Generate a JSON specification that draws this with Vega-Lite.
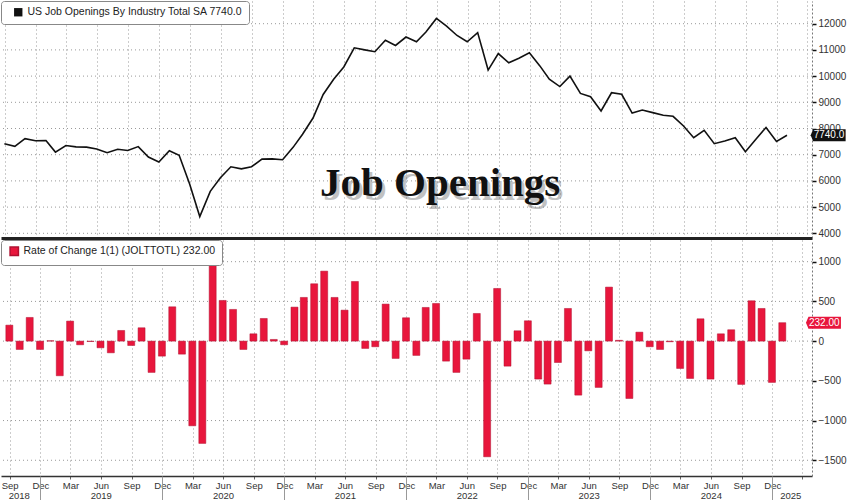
{
  "$schema": "https://vega.github.io/schema/vega-lite/v6.json",
  "padding": 0,
  "autosize": {"type": "pad"},
  "background": "white",
  "spacing": 0,
  "config": {
    "view": {"stroke": null},
    "font": "Liberation Sans",
    "axis": {"labelFont": "Liberation Sans"},
    "legend": {"labelFont": "Liberation Sans"}
  },
  "resolve": {"scale": {"color": "independent"}, "legend": {"color": "independent"}},
  "data": {
    "format": {"parse": {"date": "utc:'%Y-%m-%d'"}},
    "values": [
      {"date": "2018-09-30", "openings": 7420, "change": 201},
      {"date": "2018-10-31", "openings": 7320, "change": -105},
      {"date": "2018-11-30", "openings": 7610, "change": 298},
      {"date": "2018-12-31", "openings": 7530, "change": -105},
      {"date": "2019-01-31", "openings": 7540, "change": 5},
      {"date": "2019-02-28", "openings": 7100, "change": -436},
      {"date": "2019-03-31", "openings": 7350, "change": 252},
      {"date": "2019-04-30", "openings": 7300, "change": -46},
      {"date": "2019-05-31", "openings": 7290, "change": -5},
      {"date": "2019-06-30", "openings": 7220, "change": -84},
      {"date": "2019-07-31", "openings": 7075, "change": -147},
      {"date": "2019-08-31", "openings": 7210, "change": 134},
      {"date": "2019-09-30", "openings": 7160, "change": -55},
      {"date": "2019-10-31", "openings": 7310, "change": 168},
      {"date": "2019-11-30", "openings": 6910, "change": -394},
      {"date": "2019-12-31", "openings": 6720, "change": -189},
      {"date": "2020-01-31", "openings": 7150, "change": 432},
      {"date": "2020-02-29", "openings": 6980, "change": -164},
      {"date": "2020-03-31", "openings": 5880, "change": -1066},
      {"date": "2020-04-30", "openings": 4640, "change": -1288},
      {"date": "2020-05-31", "openings": 5600, "change": 990},
      {"date": "2020-06-30", "openings": 6120, "change": 512},
      {"date": "2020-07-31", "openings": 6540, "change": 399},
      {"date": "2020-08-31", "openings": 6460, "change": -105},
      {"date": "2020-09-30", "openings": 6540, "change": 92},
      {"date": "2020-10-31", "openings": 6830, "change": 285},
      {"date": "2020-11-30", "openings": 6840, "change": 21},
      {"date": "2020-12-31", "openings": 6810, "change": -46},
      {"date": "2021-01-31", "openings": 7280, "change": 428},
      {"date": "2021-02-28", "openings": 7780, "change": 550},
      {"date": "2021-03-31", "openings": 8400, "change": 722},
      {"date": "2021-04-30", "openings": 9300, "change": 881},
      {"date": "2021-05-31", "openings": 9880, "change": 550},
      {"date": "2021-06-30", "openings": 10350, "change": 390},
      {"date": "2021-07-31", "openings": 11080, "change": 751},
      {"date": "2021-08-31", "openings": 11000, "change": -92},
      {"date": "2021-09-30", "openings": 10930, "change": -71},
      {"date": "2021-10-31", "openings": 11370, "change": 466},
      {"date": "2021-11-30", "openings": 11170, "change": -218},
      {"date": "2021-12-31", "openings": 11490, "change": 294},
      {"date": "2022-01-31", "openings": 11310, "change": -180},
      {"date": "2022-02-28", "openings": 11680, "change": 424},
      {"date": "2022-03-31", "openings": 12200, "change": 474},
      {"date": "2022-04-30", "openings": 11910, "change": -252},
      {"date": "2022-05-31", "openings": 11550, "change": -394},
      {"date": "2022-06-30", "openings": 11310, "change": -227},
      {"date": "2022-07-31", "openings": 11660, "change": 348},
      {"date": "2022-08-31", "openings": 10230, "change": -1456},
      {"date": "2022-09-30", "openings": 10860, "change": 663},
      {"date": "2022-10-31", "openings": 10510, "change": -315},
      {"date": "2022-11-30", "openings": 10680, "change": 130},
      {"date": "2022-12-31", "openings": 10890, "change": 256},
      {"date": "2023-01-31", "openings": 10390, "change": -478},
      {"date": "2023-02-28", "openings": 9880, "change": -541},
      {"date": "2023-03-31", "openings": 9600, "change": -269},
      {"date": "2023-04-30", "openings": 10000, "change": 411},
      {"date": "2023-05-31", "openings": 9340, "change": -680},
      {"date": "2023-06-30", "openings": 9215, "change": -122},
      {"date": "2023-07-31", "openings": 8670, "change": -583},
      {"date": "2023-08-31", "openings": 9365, "change": 680},
      {"date": "2023-09-30", "openings": 9305, "change": 10},
      {"date": "2023-10-31", "openings": 8590, "change": -722},
      {"date": "2023-11-30", "openings": 8705, "change": 113},
      {"date": "2023-12-31", "openings": 8605, "change": -71},
      {"date": "2024-01-31", "openings": 8505, "change": -105},
      {"date": "2024-02-29", "openings": 8465, "change": -8},
      {"date": "2024-03-31", "openings": 8095, "change": -344},
      {"date": "2024-04-30", "openings": 7650, "change": -470},
      {"date": "2024-05-31", "openings": 7930, "change": 281},
      {"date": "2024-06-30", "openings": 7420, "change": -478},
      {"date": "2024-07-31", "openings": 7525, "change": 92},
      {"date": "2024-08-31", "openings": 7650, "change": 143},
      {"date": "2024-09-30", "openings": 7115, "change": -545},
      {"date": "2024-10-31", "openings": 7590, "change": 508},
      {"date": "2024-11-30", "openings": 8040, "change": 411},
      {"date": "2024-12-31", "openings": 7508, "change": -520},
      {"date": "2025-01-31", "openings": 7740, "change": 232}
    ]
  },
  "vconcat": [
    {
      "width": 811,
      "height": 237,
      "resolve": {"axis": {"y": "independent"}},
      "layer": [
        {
          "data": {"values": [{"level": 4000}, {"level": 5000}, {"level": 6000}, {"level": 7000}, {"level": 8000}, {"level": 9000}, {"level": 10000}, {"level": 11000}, {"level": 12000}]},
          "mark": {"type": "rule", "strokeDash": [1, 3], "color": "#999", "strokeWidth": 1},
          "encoding": {
            "y": {"field": "level", "type": "quantitative", "scale": {"domain": [3821, 12866], "nice": false, "zero": false}, "axis": null}
          }
        },
        {
          "encoding": {
            "x": {
              "field": "date", "type": "temporal",
              "scale": {"type": "utc", "nice": false, "domain": [{"year": 2018, "month": 9, "date": 20, "utc": true}, {"year": 2025, "month": 4, "date": 15, "utc": true}]},
              "axis": {"title": null, "orient": "bottom", "labels": false, "ticks": false, "domain": true, "domainColor": "#222", "domainWidth": 3, "grid": true, "gridDash": [1, 3], "gridColor": "#999", "tickCount": {"interval": "month", "step": 3}}
            },
            "y": {
              "field": "openings", "type": "quantitative",
              "scale": {"domain": [3821, 12866], "nice": false, "zero": false},
              "axis": {"title": null, "orient": "right", "values": [4000, 5000, 6000, 7000, 8000, 9000, 10000, 11000, 12000], "format": "d", "labelOverlap": false, "grid": false, "tickSize": 4, "tickColor": "#111", "tickWidth": 1.5, "domain": true, "domainColor": "#777", "domainDash": [2, 2], "labelFontSize": 10, "labelColor": "#333", "labelPadding": 2}
            }
          },
          "layer": [
            {
              "mark": {"type": "line", "strokeWidth": 1.6},
              "encoding": {
                "color": {
                  "datum": "US Job Openings By Industry Total SA 7740.0", "type": "nominal",
                  "scale": {"range": ["#111111"]},
                  "legend": {"title": null, "orient": "top-left", "offset": 0, "padding": 6, "fillColor": "white", "strokeColor": "#888", "cornerRadius": 3, "symbolType": "square", "symbolSize": 70, "labelFontSize": 10.5, "labelColor": "#222", "labelLimit": 500, "symbolOffset": 6, "encode": {"symbols": {"update": {"fill": {"value": "#111"}, "stroke": {"value": "#111"}, "strokeWidth": {"value": 0}}}}}
                }
              }
            },
            {
              "transform": [{"filter": "utcyear(datum.date) == 2025"}],
              "mark": {"type": "point", "shape": "M-1.1,0L-0.95,-0.36L1,-0.36L1,0.36L-0.95,0.36Z", "filled": true, "size": 1111, "color": "#111", "opacity": 1, "xOffset": 42, "strokeWidth": 0}
            },
            {
              "transform": [{"filter": "utcyear(datum.date) == 2025"}],
              "mark": {"type": "text", "color": "white", "fontSize": 10, "dx": 42, "align": "center", "baseline": "middle"},
              "encoding": {
                "text": {"field": "openings", "type": "quantitative", "format": ".1f"}
              }
            }
          ]
        },
        {
          "data": {"values": [{"label": "Job Openings"}]},
          "mark": {"type": "text", "font": "Liberation Serif", "fontWeight": "bold", "fontSize": 41, "color": "#777", "opacity": 0.45, "dx": 3, "dy": 4, "align": "center", "baseline": "alphabetic"},
          "encoding": {
            "x": {"datum": {"year": 2022, "month": 4, "date": 11, "utc": true}, "type": "temporal", "scale": {"type": "utc", "nice": false, "domain": [{"year": 2018, "month": 9, "date": 20, "utc": true}, {"year": 2025, "month": 4, "date": 15, "utc": true}]}, "axis": {"title": null, "orient": "bottom", "labels": false, "ticks": false, "domain": true, "domainColor": "#222", "domainWidth": 3, "grid": true, "gridDash": [1, 3], "gridColor": "#999", "tickCount": {"interval": "month", "step": 3}}},
            "y": {"datum": 5423, "type": "quantitative", "scale": {"domain": [3821, 12866], "nice": false, "zero": false}, "axis": null},
            "text": {"field": "label", "type": "nominal"}
          }
        },
        {
          "data": {"values": [{"label": "Job Openings"}]},
          "mark": {"type": "text", "font": "Liberation Serif", "fontWeight": "bold", "fontSize": 41, "color": "#111", "align": "center", "baseline": "alphabetic"},
          "encoding": {
            "x": {"datum": {"year": 2022, "month": 4, "date": 11, "utc": true}, "type": "temporal", "scale": {"type": "utc", "nice": false, "domain": [{"year": 2018, "month": 9, "date": 20, "utc": true}, {"year": 2025, "month": 4, "date": 15, "utc": true}]}, "axis": {"title": null, "orient": "bottom", "labels": false, "ticks": false, "domain": true, "domainColor": "#222", "domainWidth": 3, "grid": true, "gridDash": [1, 3], "gridColor": "#999", "tickCount": {"interval": "month", "step": 3}}},
            "y": {"datum": 5423, "type": "quantitative", "scale": {"domain": [3821, 12866], "nice": false, "zero": false}, "axis": null},
            "text": {"field": "label", "type": "nominal"}
          }
        }
      ]
    },
    {
      "width": 811,
      "height": 236,
      "resolve": {"axis": {"x": "independent", "y": "independent"}},
      "layer": [
        {
          "data": {"values": [{"level": -1500}, {"level": -1000}, {"level": -500}, {"level": 0}, {"level": 500}, {"level": 1000}]},
          "mark": {"type": "rule", "strokeDash": [1, 3], "color": "#999", "strokeWidth": 1},
          "encoding": {
            "y": {"field": "level", "type": "quantitative", "scale": {"domain": [-1698, 1273], "nice": false, "zero": false}, "axis": null}
          }
        },
        {
          "mark": {"type": "bar", "width": 7, "stroke": "#b01030", "strokeWidth": 0.5},
          "encoding": {
            "x": {
              "field": "date", "type": "temporal",
              "scale": {"type": "utc", "nice": false, "domain": [{"year": 2018, "month": 9, "date": 20, "utc": true}, {"year": 2025, "month": 4, "date": 15, "utc": true}]},
              "axis": {"title": null, "orient": "bottom", "tickCount": {"interval": "month", "step": 3}, "labelExpr": "datum.value > 1738368000000 ? '' : utcFormat(datum.value - 86400000, '%b')", "labelFlush": 5, "labelOverlap": false, "ticks": true, "tickSize": 3, "tickColor": "#666", "domain": true, "domainColor": "#333", "domainWidth": 1.5, "grid": true, "gridDash": [1, 3], "gridColor": "#999", "labelFontSize": 9.5, "labelColor": "#333", "labelPadding": 1}
            },
            "y": {
              "field": "change", "type": "quantitative",
              "scale": {"domain": [-1698, 1273], "nice": false, "zero": false},
              "axis": {"title": null, "orient": "right", "values": [-1500, -1000, -500, 0, 500, 1000], "format": "d", "labelOverlap": false, "grid": false, "tickSize": 4, "tickColor": "#111", "tickWidth": 1.5, "domain": true, "domainColor": "#777", "domainDash": [2, 2], "labelFontSize": 10, "labelColor": "#333", "labelPadding": 2}
            },
            "color": {
              "datum": "Rate of Change 1(1) (JOLTTOTL) 232.00", "type": "nominal",
              "scale": {"range": ["#e8163c"]},
              "legend": {"title": null, "orient": "top-left", "offset": 0, "padding": 6, "fillColor": "white", "strokeColor": "#888", "cornerRadius": 3, "symbolType": "square", "symbolSize": 70, "labelFontSize": 10.5, "labelColor": "#222", "labelLimit": 500, "symbolOffset": 2, "encode": {"symbols": {"update": {"fill": {"value": "#e8163c"}, "stroke": {"value": "#e8163c"}, "strokeWidth": {"value": 0}}}}}
            }
          }
        },
        {
          "transform": [{"filter": "utcyear(datum.date) == 2025"}],
          "mark": {"type": "point", "shape": "M-1.1,0L-0.95,-0.36L1,-0.36L1,0.36L-0.95,0.36Z", "filled": true, "size": 1111, "color": "#e8163c", "opacity": 1, "xOffset": 42, "strokeWidth": 0},
          "encoding": {
            "x": {
              "field": "date", "type": "temporal",
              "scale": {"type": "utc", "nice": false, "domain": [{"year": 2018, "month": 9, "date": 20, "utc": true}, {"year": 2025, "month": 4, "date": 15, "utc": true}]},
              "axis": {"title": null, "orient": "bottom", "values": [{"year": 2019, "month": 1, "date": 1, "utc": true}, {"year": 2020, "month": 1, "date": 1, "utc": true}, {"year": 2021, "month": 1, "date": 1, "utc": true}, {"year": 2022, "month": 1, "date": 1, "utc": true}, {"year": 2023, "month": 1, "date": 1, "utc": true}, {"year": 2024, "month": 1, "date": 1, "utc": true}, {"year": 2025, "month": 1, "date": 1, "utc": true}], "labels": false, "ticks": true, "tickSize": 25, "tickColor": "#999", "tickWidth": 1, "domain": false, "grid": false}
            },
            "y": {
              "field": "change", "type": "quantitative",
              "scale": {"domain": [-1698, 1273], "nice": false, "zero": false},
              "axis": null
            }
          }
        },
        {
          "transform": [{"filter": "utcyear(datum.date) == 2025"}],
          "mark": {"type": "text", "color": "white", "fontSize": 10, "dx": 42, "align": "center", "baseline": "middle"},
          "encoding": {
            "x": {
              "field": "date", "type": "temporal",
              "scale": {"type": "utc", "nice": false, "domain": [{"year": 2018, "month": 9, "date": 20, "utc": true}, {"year": 2025, "month": 4, "date": 15, "utc": true}]},
              "axis": {"title": null, "orient": "bottom", "values": [{"year": 2018, "month": 10, "date": 28, "utc": true}, {"year": 2019, "month": 7, "date": 1, "utc": true}, {"year": 2020, "month": 7, "date": 1, "utc": true}, {"year": 2021, "month": 7, "date": 1, "utc": true}, {"year": 2022, "month": 7, "date": 1, "utc": true}, {"year": 2023, "month": 7, "date": 1, "utc": true}, {"year": 2024, "month": 7, "date": 1, "utc": true}, {"year": 2025, "month": 2, "date": 24, "utc": true}], "labelExpr": "utcFormat(datum.value, '%Y')", "ticks": false, "domain": false, "grid": false, "labelPadding": 14, "labelFontSize": 9.5, "labelColor": "#333", "labelOverlap": false}
            },
            "y": {
              "field": "change", "type": "quantitative",
              "scale": {"domain": [-1698, 1273], "nice": false, "zero": false},
              "axis": null
            },
            "text": {"field": "change", "type": "quantitative", "format": ".2f"}
          }
        }
      ]
    }
  ]
}
